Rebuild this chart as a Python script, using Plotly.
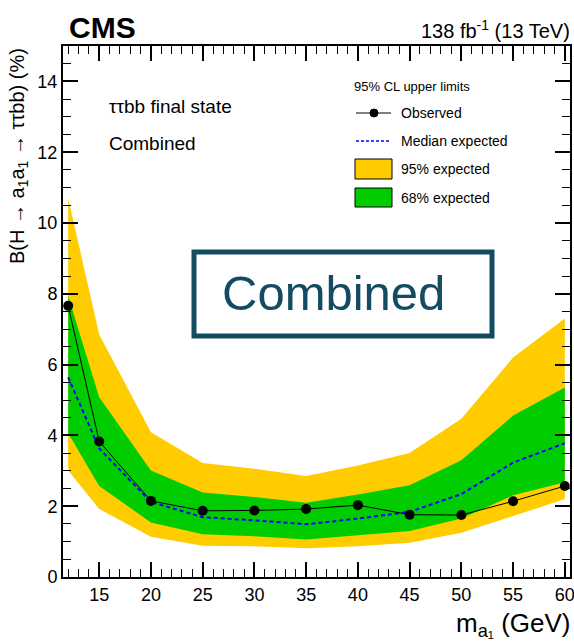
import plotly.graph_objects as go

# ---- data ----
mass = [12, 15, 20, 25, 30, 35, 40, 45, 50, 55, 60]
observed = [7.66, 3.83, 2.15, 1.87, 1.88, 1.92, 2.03, 1.76, 1.75, 2.14, 2.57]
median_exp = [5.64, 3.63, 2.12, 1.69, 1.60, 1.49, 1.65, 1.84, 2.34, 3.23, 3.78]
exp68_hi = [7.94, 5.08, 3.01, 2.39, 2.26, 2.10, 2.33, 2.59, 3.30, 4.56, 5.35]
exp68_lo = [4.06, 2.57, 1.54, 1.21, 1.15, 1.06, 1.18, 1.30, 1.65, 2.31, 2.68]
exp95_hi = [10.70, 6.85, 4.09, 3.22, 3.06, 2.85, 3.15, 3.50, 4.47, 6.20, 7.30]
exp95_lo = [3.01, 1.92, 1.14, 0.88, 0.87, 0.81, 0.87, 0.97, 1.25, 1.72, 2.20]
x_ticks = [15, 20, 25, 30, 35, 40, 45, 50, 55, 60]
y_ticks = [0, 2, 4, 6, 8, 10, 12, 14]

FONT = "Liberation Sans"
W, H = 574, 641
L, R, T, B = 63, 4, 46, 64
PW, PH = W - L - R, H - T - B


def px(xp):
    return (xp - L) / PW


def py(yp):
    return (H - B - yp) / PH


fig = go.Figure()

fig.add_trace(go.Scatter(
    x=mass + mass[::-1], y=exp95_hi + exp95_lo[::-1],
    fill="toself", fillcolor="#ffcc00", line=dict(width=0),
    mode="lines", hoverinfo="skip", showlegend=False))
fig.add_trace(go.Scatter(
    x=mass + mass[::-1], y=exp68_hi + exp68_lo[::-1],
    fill="toself", fillcolor="#00cc00", line=dict(width=0),
    mode="lines", hoverinfo="skip", showlegend=False))
fig.add_trace(go.Scatter(
    x=mass, y=median_exp, mode="lines",
    line=dict(color="#0000ff", width=2, dash="4px,3px"), showlegend=False))
fig.add_trace(go.Scatter(
    x=mass, y=observed, mode="lines+markers",
    line=dict(color="black", width=1),
    marker=dict(color="black", size=10), showlegend=False))

axis_common = dict(
    showline=True, linecolor="black", linewidth=2, mirror="ticks",
    ticks="inside", ticklen=15, tickwidth=1.5, tickcolor="black",
    showgrid=False, zeroline=False, ticklabeloverflow="allow",
    tickfont=dict(family=FONT, size=18, color="black"),
)

fig.update_xaxes(
    range=[11.5, 60.5], tickvals=x_ticks, ticktext=[str(v) for v in x_ticks],
    minor=dict(dtick=1, tick0=0, ticks="inside", ticklen=8, tickwidth=1.2,
               tickcolor="black", showgrid=False),
    automargin=False, **axis_common)
fig.update_yaxes(
    range=[0, 15], tickvals=y_ticks, ticktext=[str(v) for v in y_ticks],
    minor=dict(dtick=0.5, tick0=0, ticks="inside", ticklen=8, tickwidth=1.2,
               tickcolor="black", showgrid=False),
    automargin=False, **axis_common)

shapes = []
annotations = []

# axis titles (ROOT-style, right/top aligned)
annotations.append(dict(
    text="B(H → a<sub>1</sub>a<sub>1</sub> → ττbb) (%)", textangle=-90,
    x=px(18), y=py(46), xref="paper", yref="paper",
    xanchor="center", yanchor="top", showarrow=False,
    font=dict(family=FONT, size=20, color="black")))
annotations.append(dict(
    text="m<sub>a₁</sub> (GeV)",
    x=px(573), y=py(624), xref="paper", yref="paper",
    xanchor="right", yanchor="middle", showarrow=False,
    font=dict(family=FONT, size=26, color="black")))

# header texts
annotations.append(dict(
    text="<b>CMS</b>", x=px(67), y=py(27), xref="paper", yref="paper",
    xanchor="left", yanchor="middle", showarrow=False,
    font=dict(family=FONT, size=30, color="black")))
annotations.append(dict(
    text="138 fb<sup>-1</sup> (13 TeV)", x=px(572), y=py(29), xref="paper", yref="paper",
    xanchor="right", yanchor="middle", showarrow=False,
    font=dict(family=FONT, size=20, color="black")))
annotations.append(dict(
    text="ττbb final state", x=px(107), y=py(107), xref="paper", yref="paper",
    xanchor="left", yanchor="middle", showarrow=False,
    font=dict(family=FONT, size=19, color="black")))
annotations.append(dict(
    text="Combined", x=px(107), y=py(143), xref="paper", yref="paper",
    xanchor="left", yanchor="middle", showarrow=False,
    font=dict(family=FONT, size=19, color="black")))

# legend
annotations.append(dict(
    text="95% CL upper limits", x=px(352), y=py(86), xref="paper", yref="paper",
    xanchor="left", yanchor="middle", showarrow=False,
    font=dict(family=FONT, size=13, color="black")))
leg_items = [("Observed", 113), ("Median expected", 141),
             ("95% expected", 169), ("68% expected", 198)]
for name, yy in leg_items:
    annotations.append(dict(
        text=name, x=px(399), y=py(yy), xref="paper", yref="paper",
        xanchor="left", yanchor="middle", showarrow=False,
        font=dict(family=FONT, size=14, color="black")))

shapes.append(dict(type="line", xref="paper", yref="paper",
                   x0=px(356), x1=px(391), y0=py(113), y1=py(113),
                   line=dict(color="black", width=1)))
shapes.append(dict(type="circle", xref="paper", yref="paper",
                   x0=px(370), x1=px(378), y0=py(117), y1=py(109),
                   fillcolor="black", line=dict(color="black", width=1)))
shapes.append(dict(type="line", xref="paper", yref="paper",
                   x0=px(356), x1=px(391), y0=py(141), y1=py(141),
                   line=dict(color="#0000ff", width=1.5, dash="3px,2px")))
shapes.append(dict(type="rect", xref="paper", yref="paper",
                   x0=px(355), x1=px(392), y0=py(179), y1=py(159),
                   fillcolor="#ffcc00", line=dict(color="black", width=1)))
shapes.append(dict(type="rect", xref="paper", yref="paper",
                   x0=px(355), x1=px(392), y0=py(207), y1=py(188),
                   fillcolor="#00cc00", line=dict(color="black", width=1)))

# big "Combined" box
BOX = "#134b62"
shapes.append(dict(type="rect", xref="paper", yref="paper",
                   x0=px(194), x1=px(492), y0=py(336), y1=py(252),
                   fillcolor="white", line=dict(color=BOX, width=5)))
annotations.append(dict(
    text="Combined", x=px(333), y=py(293), xref="paper", yref="paper",
    xanchor="center", yanchor="middle", showarrow=False,
    font=dict(family=FONT, size=49, color=BOX)))

fig.update_layout(
    width=W, height=H,
    margin=dict(l=L, r=R, t=T, b=B, autoexpand=False),
    paper_bgcolor="white", plot_bgcolor="white",
    shapes=shapes, annotations=annotations, showlegend=False,
)

fig.write_html("out.html")
